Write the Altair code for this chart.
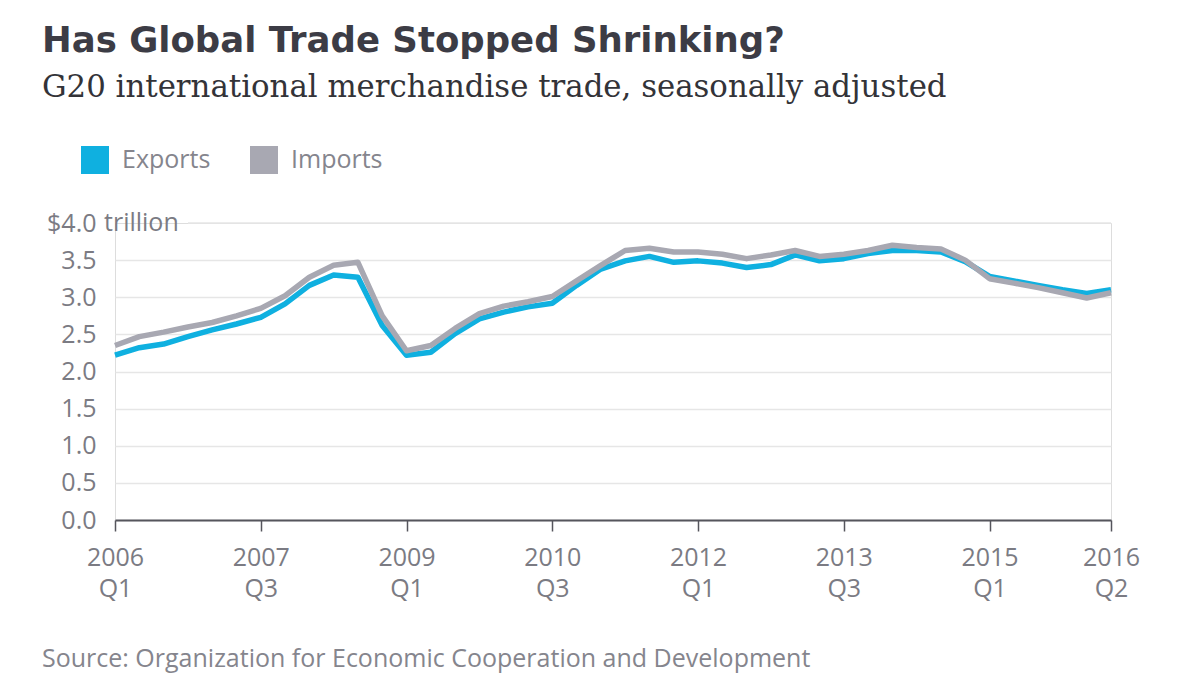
import altair as alt
import pandas as pd

# ---- data ----
years_quarters = [(y, q) for y in range(2006, 2017) for q in range(1, 5)][:42]
quarters = [f"{y} Q{q}" for y, q in years_quarters]

exports = [2.22, 2.32, 2.37, 2.47, 2.56, 2.64, 2.73, 2.91, 3.16, 3.30,
           3.27, 2.62, 2.22, 2.26, 2.51, 2.71, 2.80, 2.87, 2.92, 3.16,
           3.38, 3.49, 3.55, 3.47, 3.49, 3.46, 3.40, 3.44, 3.57, 3.49,
           3.52, 3.59, 3.63, 3.63, 3.61, 3.48, 3.28, 3.22, 3.16, 3.10,
           3.05, 3.10]
imports = [2.35, 2.47, 2.53, 2.60, 2.66, 2.75, 2.85, 3.02, 3.27, 3.43,
           3.47, 2.75, 2.28, 2.35, 2.58, 2.78, 2.88, 2.94, 3.01, 3.22,
           3.43, 3.63, 3.66, 3.61, 3.61, 3.58, 3.52, 3.57, 3.63, 3.55,
           3.58, 3.63, 3.70, 3.67, 3.65, 3.50, 3.25, 3.19, 3.13, 3.06,
           2.99, 3.06]
series = ["Exports", "Imports"]
colors = ["#0fb0e0", "#a8a8b2"]

x_tick_values = [0, 6, 12, 18, 24, 30, 36, 41]
y_tick_values = [0, 0.5, 1.0, 1.5, 2.0, 2.5, 3.0, 3.5, 4.0]

title_text = "Has Global Trade Stopped Shrinking?"
subtitle_text = "G20 international merchandise trade, seasonally adjusted"
source_text = "Source: Organization for Economic Cooperation and Development"

# ---- tables ----
rows = []
for i, q in enumerate(quarters):
    rows.append({"idx": i, "quarter": q, "series": "Exports", "value": exports[i]})
    rows.append({"idx": i, "quarter": q, "series": "Imports", "value": imports[i]})
df = pd.DataFrame(rows)

W, H = 996, 297
FONT = "Open Sans"
FS = 25
LABEL_COLOR = "#7b7b83"

label_array = "[" + ",".join(f"'{q}'" for q in quarters) + "]"

color_scale = alt.Scale(domain=series, range=colors)
y_scale = alt.Scale(domain=[0, 4], nice=False)

x_enc = alt.X(
    "idx:Q",
    scale=alt.Scale(domain=[0, 41], nice=False, zero=False),
    axis=alt.Axis(
        values=x_tick_values,
        labelExpr=f"split({label_array}[datum.value], ' ')",
        title=None,
        grid=False,
        domainColor="#55555c",
        domainWidth=2,
        tickColor="#55555c",
        tickWidth=1.5,
        tickSize=11,
        labelFont=FONT,
        labelFontSize=FS,
        labelColor=LABEL_COLOR,
        labelLineHeight=31,
        labelPadding=14,
        labelFlush=False,
        labelOverlap=False,
        labelAlign="center",
    ),
)
y_axis = alt.Axis(
    values=y_tick_values,
    labelExpr="datum.value == 4 ? '$4.0' : format(datum.value, '.1f')",
    title=None,
    domain=False,
    ticks=False,
    gridColor={"condition": {"test": "datum.value == 4", "value": "transparent"},
               "value": "#e6e6e6"},
    gridWidth=1.5,
    labelFont=FONT,
    labelFontSize=FS,
    labelColor=LABEL_COLOR,
    labelAlign="right",
    labelBaseline="middle",
    labelPadding=19,
    labelOverlap=False,
    labelFlush=False,
)
y_enc = alt.Y("value:Q", scale=y_scale, axis=y_axis)

legend = alt.Legend(
    title=None,
    orient="none",
    legendX=-34,
    legendY=-77,
    direction="horizontal",
    symbolType="square",
    symbolSize=196,
    symbolStrokeWidth=14,
    labelFont=FONT,
    labelFontSize=FS,
    labelColor="#85858d",
    labelOffset=13,
    columnPadding=18,
)

def line_layer(name):
    return (
        alt.Chart(df)
        .transform_filter(alt.datum.series == name)
        .mark_line(strokeWidth=5.5, strokeJoin="round")
        .encode(
            x=x_enc,
            y=y_enc,
            color=alt.Color("series:N", scale=color_scale, legend=legend),
        )
    )

exports_line = line_layer("Exports")
imports_line = line_layer("Imports")

top_grid = (
    alt.Chart(pd.DataFrame({"v": [4.0]}))
    .mark_rule(color="#e6e6e6", strokeWidth=1.5)
    .encode(y=alt.Y("v:Q", scale=y_scale, axis=y_axis), x=alt.value(73), x2=alt.value(W))
)
trillion = (
    alt.Chart(pd.DataFrame({"v": [4.0], "t": ["trillion"]}))
    .mark_text(font=FONT, fontSize=FS, color=LABEL_COLOR, align="left", baseline="middle")
    .encode(y=alt.Y("v:Q", scale=y_scale, axis=y_axis), x=alt.value(-11), text="t:N")
)

def text_layer(txt, x, y, **kw):
    return (
        alt.Chart(pd.DataFrame({"t": [txt]}))
        .mark_text(align="left", baseline="alphabetic", **kw)
        .encode(x=alt.value(x), y=alt.value(y), text="t:N")
    )

title = text_layer(title_text, -73, -171, font="DejaVu Sans", fontSize=35.5,
                   fontWeight="bold", color="#3c3c45")
subtitle = text_layer(subtitle_text, -73, -126, font="DejaVu Serif", fontSize=30.8,
                      color="#333338")
source = text_layer(source_text, -73, 444, font=FONT, fontSize=FS, color="#85858d")

chart = (
    alt.layer(exports_line, imports_line, top_grid, trillion, title, subtitle, source)
    .properties(
        width=W,
        height=H,
        autosize=alt.AutoSizeParams(type="none"),
        padding={"left": 107, "top": 215, "right": 78, "bottom": 155},
    )
    .configure_view(stroke="transparent", strokeWidth=0)
    .configure(background="white")
)

chart.save("out.html", embed_options={"renderer": "svg", "actions": False})
